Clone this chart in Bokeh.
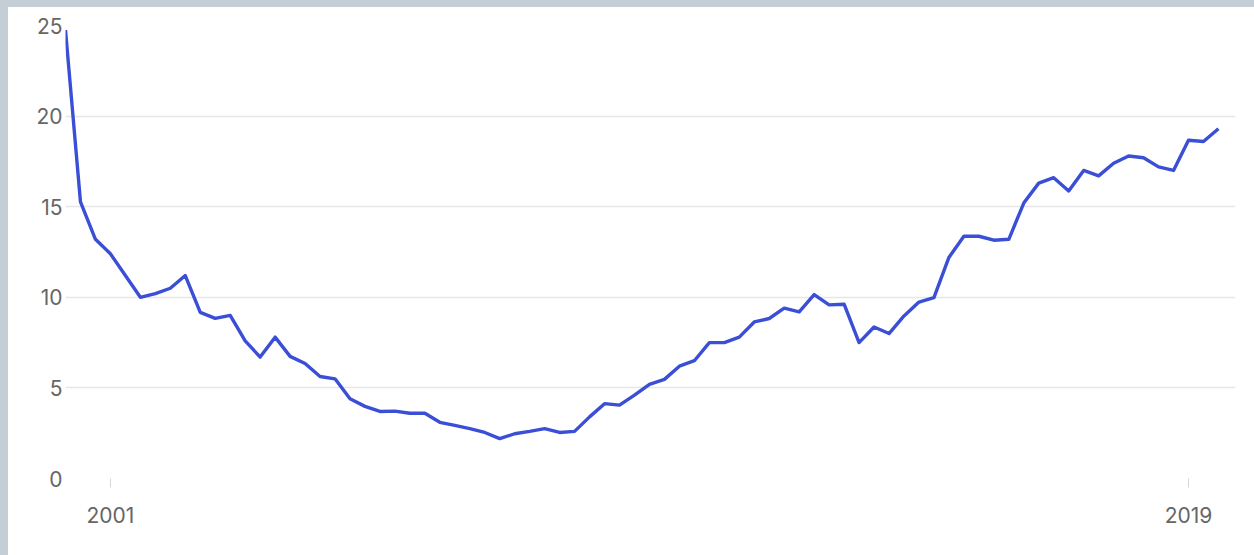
from bokeh.plotting import figure
from bokeh.models import FixedTicker, Range1d, ColumnDataSource, Spacer
from bokeh.layouts import column, row
from bokeh.embed import file_html
from bokeh.resources import INLINE

# Quarterly series, starting 2000 Q2
start_year = 2000.25
values = [
    24.75, 15.27, 13.2, 12.4, 11.2, 10.0, 10.2, 10.5, 11.2, 9.17,
    8.84, 9.0, 7.6, 6.7, 7.8, 6.74, 6.35, 5.63, 5.5, 4.4,
    3.98, 3.7, 3.72, 3.6, 3.6, 3.1, 2.93, 2.75, 2.54, 2.2,
    2.47, 2.6, 2.75, 2.54, 2.6, 3.4, 4.13, 4.05, 4.6, 5.2,
    5.47, 6.2, 6.5, 7.5, 7.5, 7.8, 8.64, 8.83, 9.4, 9.2,
    10.15, 9.58, 9.62, 7.5, 8.36, 8.0, 8.97, 9.74, 9.98, 12.2,
    13.37, 13.37, 13.15, 13.2, 15.2, 16.3, 16.6, 15.87, 17.0, 16.7,
    17.4, 17.8, 17.7, 17.2, 17.0, 18.67, 18.6, 19.3,
]
years = [start_year + 0.25 * i for i in range(len(values))]

x_ticks = [2001, 2019]
y_ticks = [0, 5, 10, 15, 20, 25]

src = ColumnDataSource(dict(x=years, y=values))

p = figure(
    width=1246, height=548,
    output_backend="svg", toolbar_location=None,
    x_range=Range1d(2000.25, 2019.785), y_range=Range1d(0, 25),
    min_border_left=57, min_border_right=19, min_border_top=18, min_border_bottom=77,
)
p.background_fill_color = "white"
p.border_fill_color = "white"
p.outline_line_color = None

p.line("x", "y", source=src, line_color="#3a4fd6", line_width=3.4, line_join="round")

p.xgrid.grid_line_color = None
p.ygrid.grid_line_color = "#e6e6e6"
p.ygrid.grid_line_width = 1.3
p.ygrid.ticker = FixedTicker(ticks=y_ticks)

p.yaxis.ticker = FixedTicker(ticks=y_ticks)
p.yaxis.axis_line_color = None
p.yaxis.major_tick_line_color = None
p.yaxis.major_tick_in = 0
p.yaxis.major_tick_out = 0
p.yaxis.minor_tick_line_color = None
p.yaxis.major_label_standoff = 3
p.yaxis.major_label_text_font = "Inter"
p.yaxis.major_label_text_font_size = "21px"
p.yaxis.major_label_text_color = "#666666"

p.xaxis.ticker = FixedTicker(ticks=x_ticks)
p.xaxis.axis_line_color = None
p.xaxis.major_tick_line_color = "#d5d5d5"
p.xaxis.major_tick_in = 0
p.xaxis.major_tick_out = 9
p.xaxis.minor_tick_line_color = None
p.xaxis.major_label_standoff = 19
p.xaxis.major_label_text_font = "Inter"
p.xaxis.major_label_text_font_size = "21px"
p.xaxis.major_label_text_color = "#666666"

bg = {"background-color": "#c3ced6"}
top = Spacer(width=1254, height=7, styles=bg)
left = Spacer(width=8, height=548, styles=bg)
layout = column(top, row(left, p))

open("out.html", "w").write(file_html(layout, INLINE))
